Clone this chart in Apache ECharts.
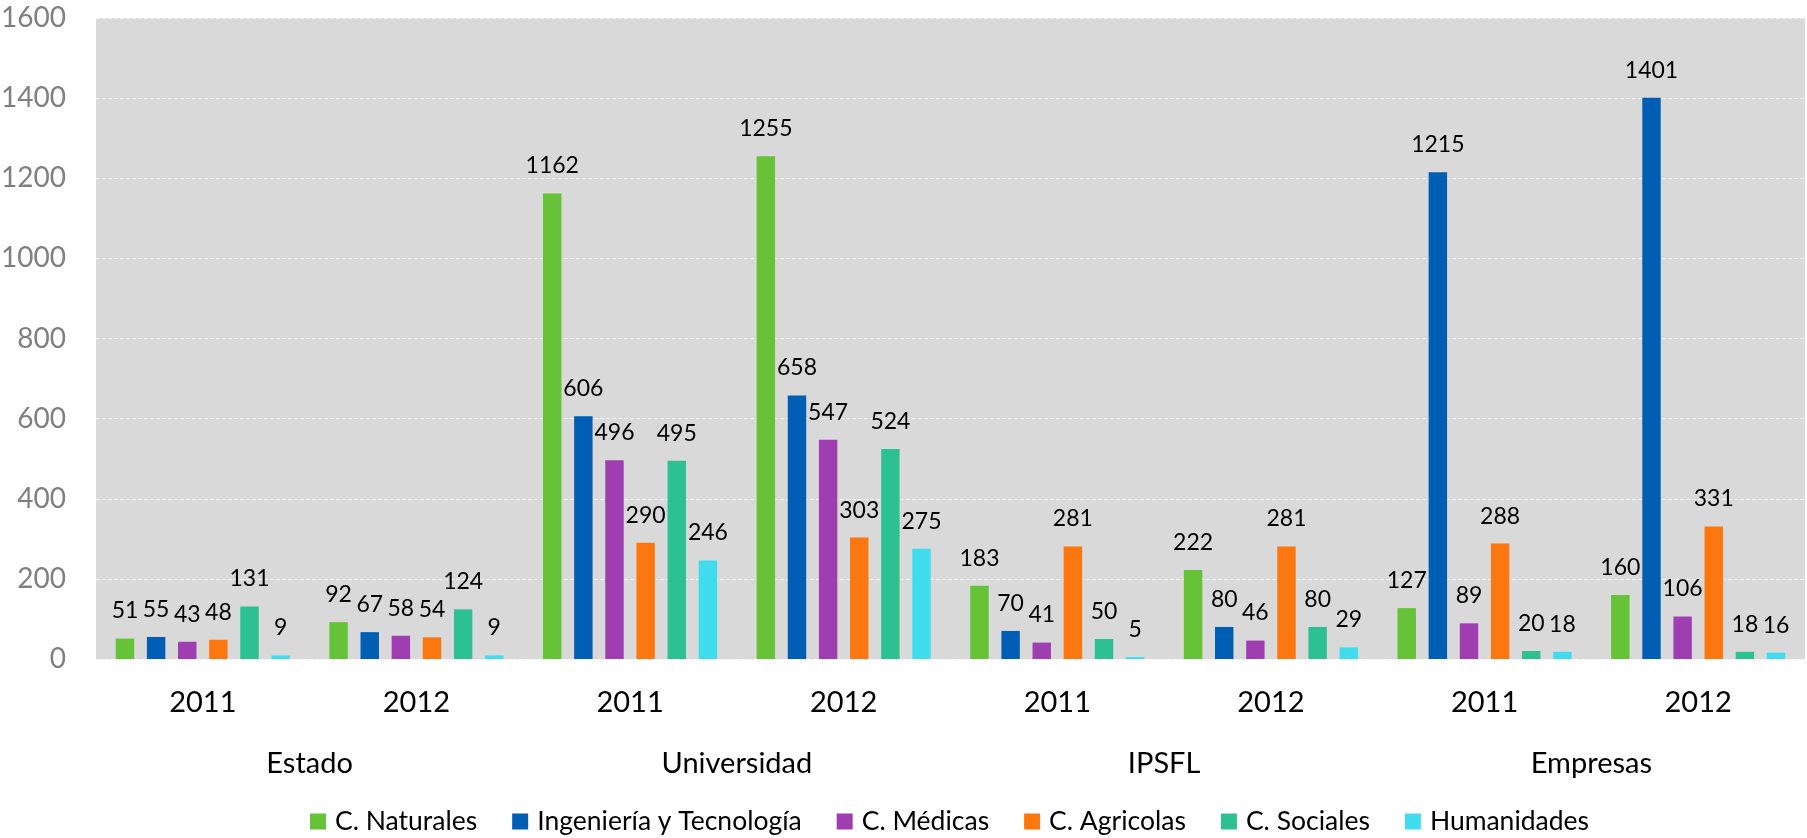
<!DOCTYPE html>
<html>
<head>
<meta charset="utf-8">
<script src="https://cdn.jsdelivr.net/npm/echarts@6/dist/echarts.min.js"></script>
<style>
  html, body { margin: 0; padding: 0; background: #fff; }
  #chart { width: 1807px; height: 838px; }
</style>
</head>
<body>
<div id="chart"></div>
<script>
var chart = echarts.init(document.getElementById('chart'));

var years = ['2011', '2012', '2011', '2012', '2011', '2012', '2011', '2012'];
var sectors = ['Estado', 'Universidad', 'IPSFL', 'Empresas'];
var seriesNames = ['C. Naturales', 'Ingeniería y Tecnología', 'C. Médicas', 'C. Agricolas', 'C. Sociales', 'Humanidades'];

var naturales = [51, 92, 1162, 1255, 183, 222, 127, 160];
var ingenieria = [55, 67, 606, 658, 70, 80, 1215, 1401];
var medicas = [43, 58, 496, 547, 41, 46, 89, 106];
var agricolas = [48, 54, 290, 303, 281, 281, 288, 331];
var sociales = [131, 124, 495, 524, 50, 80, 20, 18];
var humanidades = [9, 9, 246, 275, 5, 29, 18, 16];

var colors = ['#66c236', '#005eb4', '#9e3eb0', '#fc770f', '#2dc191', '#40dced'];
var values = [naturales, ingenieria, medicas, agricolas, sociales, humanidades];

var font = 'Lato, "Open Sans", sans-serif';

var series = seriesNames.map(function (name, i) {
    return {
        name: name,
        type: 'bar',
        data: values[i],
        barGap: '69%',
        barCategoryGap: '18.5%',
        itemStyle: { color: colors[i] },
        label: {
            show: true,
            position: 'top',
            distance: 16,
            color: '#000',
            fontSize: 23,
            fontFamily: font
        }
    };
});

var option = {
    color: colors,
    textStyle: { fontFamily: font },
    grid: {
        left: 96,
        right: 2,
        top: 18,
        bottom: 179,
        outerBoundsMode: 'none',
        show: true,
        backgroundColor: '#d9d9d9',
        borderWidth: 0
    },
    legend: {
        data: seriesNames,
        left: 305,
        top: 803,
        icon: 'rect',
        itemWidth: 16,
        itemHeight: 16,
        itemGap: 35,
        textStyle: { fontSize: 26.5, color: '#000', fontFamily: font, padding: [0, 0, 0, 4] }
    },
    xAxis: [{
        type: 'category',
        data: years,
        position: 'bottom',
        axisLine: { show: false },
        axisTick: { show: false },
        axisLabel: { fontSize: 29, color: '#000', margin: 29, fontFamily: font }
    }, {
        type: 'category',
        data: sectors,
        position: 'bottom',
        axisLine: { show: false },
        axisTick: { show: false },
        splitLine: { show: false },
        axisLabel: { fontSize: 29, color: '#000', margin: 90, fontFamily: font }
    }],
    yAxis: {
        type: 'value',
        min: 0,
        max: 1600,
        interval: 200,
        axisLine: { show: false },
        axisTick: { show: false },
        axisLabel: {
            fontSize: 28, color: '#808080', margin: 30, fontFamily: font,
            formatter: function (v) { return String(v); }
        },
        splitLine: { lineStyle: { color: '#f2f2f2', type: 'dashed', width: 1 } }
    },
    series: series
};

chart.setOption(option);
</script>
</body>
</html>
